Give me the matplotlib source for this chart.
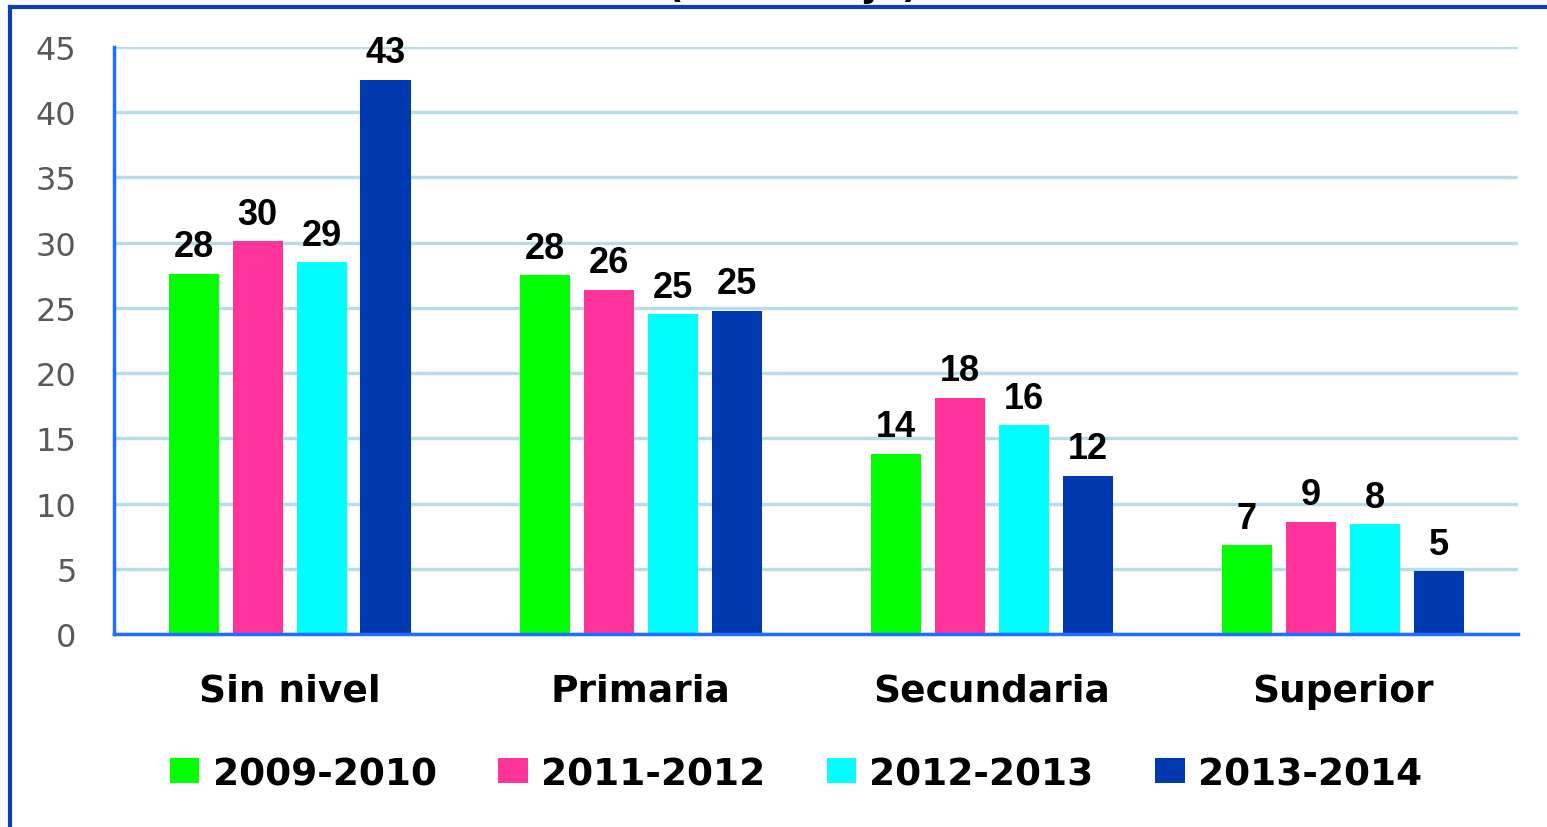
import numpy as np
import matplotlib
matplotlib.use("Agg")
import matplotlib.pyplot as plt
from matplotlib.lines import Line2D
from matplotlib.patches import Patch

# data
categories = ["Sin nivel", "Primaria", "Secundaria", "Superior"]
series = ["2009-2010", "2011-2012", "2012-2013", "2013-2014"]
v_2009 = [27.6, 27.5, 13.8, 6.8]
v_2011 = [30.1, 26.4, 18.1, 8.6]
v_2012 = [28.5, 24.5, 16.0, 8.4]
v_2013 = [42.5, 24.8, 12.1, 4.8]
labels_2009 = ["28", "28", "14", "7"]
labels_2011 = ["30", "26", "18", "9"]
labels_2012 = ["29", "25", "16", "8"]
labels_2013 = ["43", "25", "12", "5"]

values = [v_2009, v_2011, v_2012, v_2013]
labels = [labels_2009, labels_2011, labels_2012, labels_2013]
colors = ["#00ff00", "#ff3399", "#00ffff", "#0039b0"]

fig = plt.figure(figsize=(15.47, 8.28), dpi=100)
ax = fig.add_axes([0.0737, 0.2331, 0.9076, 0.7089])

x = np.arange(len(categories))
w = 0.1425
pitch = 0.1823
for i, (vals, labs, col) in enumerate(zip(values, labels, colors)):
    pos = x + (i - 1.5) * pitch
    ax.bar(pos, vals, width=w, color=col, zorder=3)
    for px, v, t in zip(pos, vals, labs):
        ax.annotate(t, (px, v), xytext=(0, 7), textcoords="offset points",
                    ha="center", va="bottom", fontsize=26, fontweight="bold",
                    family="Liberation Sans", color="black", zorder=4)

ax.set_xlim(-0.5, 3.5)
ax.set_ylim(0, 45)
ax.set_yticks(range(0, 46, 5))
ax.set_xticks(x)
ax.set_xticklabels(categories, fontsize=27, fontweight="bold", family="DejaVu Sans")
ax.tick_params(axis="x", length=0, pad=28)
ax.tick_params(axis="y", length=0, pad=27, labelsize=23, labelcolor="#595959")
ax.grid(axis="y", color="#b8dde8", linewidth=2.5, zorder=0)
for s in ["top", "right"]:
    ax.spines[s].set_visible(False)
for s in ["left", "bottom"]:
    ax.spines[s].set_color("#1f6fff")
    ax.spines[s].set_linewidth(2.5)
    ax.spines[s].set_zorder(5)

handles = [Patch(facecolor=c, edgecolor="none") for c in colors]
leg = fig.legend(handles, series, loc="center", bbox_to_anchor=(0.5146, 0.064),
                 ncol=4, frameon=False, handlelength=0.78, handleheight=0.65,
                 handletextpad=0.35, columnspacing=1.65,
                 prop={"family": "DejaVu Sans", "weight": "bold", "size": 27})

# cut-off title at the top and the blue frame
fig.text(0.513, 1 + 3 / 828, "(Porcentaje)", ha="center", va="baseline",
         fontsize=26, fontweight="bold", color="black")
fig.add_artist(Line2D([10 / 1547, 1], [1 - 8 / 828, 1 - 8 / 828],
                      transform=fig.transFigure, color="#0a3fb5", linewidth=3))
fig.add_artist(Line2D([10 / 1547, 10 / 1547], [0, 1 - 8 / 828],
                      transform=fig.transFigure, color="#0a3fb5", linewidth=3))

fig.savefig("out.png", dpi=100)
